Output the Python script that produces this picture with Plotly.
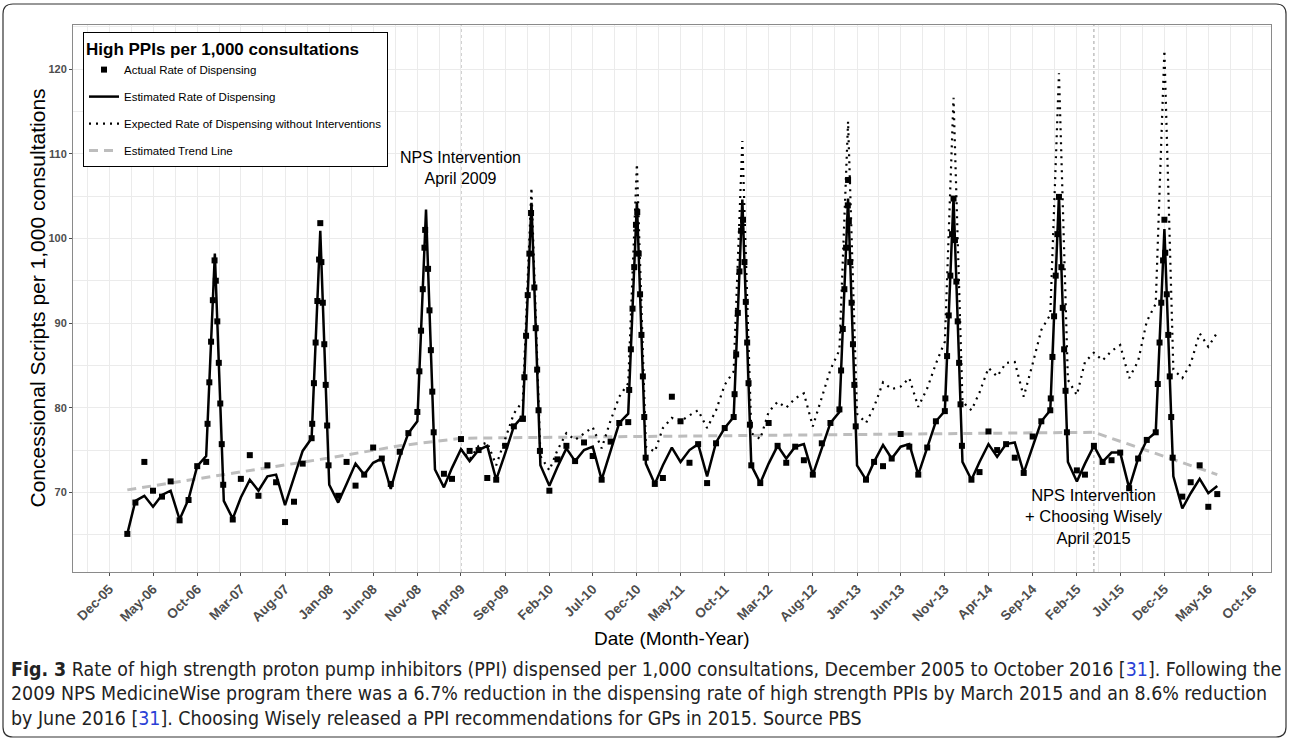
import pandas as pd
import plotly.graph_objects as go

# ---------------- data ----------------
# Estimated rate of dispensing (solid line), monthly Feb-2006 .. Jun-2016
est_2006 = [65.1, 69.0, 69.6, 68.3, 69.7, 70.2, 66.8, 69.2, 73.1, 74.3, 98.2]          # Feb-Dec
est_2007 = [69.0, 66.9, 69.4, 71.5, 70.2, 71.9, 72.1, 68.5, 71.8, 74.9, 76.4, 100.9]
est_2008 = [70.9, 68.8, 71.0, 73.4, 72.1, 73.5, 74.0, 70.4, 74.2, 77.0, 78.4, 103.4]
est_2009 = [72.7, 70.6, 72.9, 75.1, 73.7, 75.0, 75.5, 71.5, 74.6, 77.8, 79.0, 104.2]
est_2010 = [73.2, 70.8, 73.0, 75.2, 73.7, 75.0, 75.4, 71.5, 74.9, 78.2, 79.3, 104.3]
est_2011 = [73.4, 71.0, 73.2, 75.3, 73.6, 75.0, 75.7, 71.9, 75.9, 77.6, 78.9, 104.6]
est_2012 = [73.2, 71.1, 73.4, 75.5, 74.0, 75.4, 75.7, 72.1, 75.2, 78.2, 79.5, 104.7]
est_2013 = [73.2, 71.5, 73.6, 75.6, 74.0, 75.4, 75.7, 72.1, 75.3, 78.4, 79.6, 104.8]
est_2014 = [73.6, 71.5, 73.6, 75.7, 74.2, 75.7, 75.9, 72.3, 75.4, 78.4, 79.7, 105.1]
est_2015 = [73.6, 71.3, 73.4, 75.5, 73.6, 74.7, 74.7, 70.5, 74.0, 76.2, 77.1, 101.1]
est_2016 = [71.9, 68.1, 69.9, 71.6, 69.9, 70.75]                                       # Jan-Jun

# Expected rate without interventions (dotted), monthly Apr-2009 .. Jun-2016
exp_2009 = [75.1, 73.9, 75.5, 75.9, 73.2, 76.2, 79.3, 80.8, 106.0]                     # Apr-Dec
exp_2010 = [74.3, 72.6, 75.0, 77.0, 76.2, 77.0, 77.7, 75.2, 78.5, 81.3, 82.9, 108.8]
exp_2011 = [75.4, 74.8, 77.6, 78.8, 78.4, 79.1, 79.7, 77.6, 79.7, 82.7, 84.3, 111.5]
exp_2012 = [77.0, 76.3, 79.5, 80.7, 80.0, 81.1, 81.7, 77.8, 81.3, 84.5, 86.8, 113.8]
exp_2013 = [79.3, 78.2, 80.1, 83.0, 82.2, 82.5, 83.5, 80.1, 82.3, 85.2, 87.8, 116.6]
exp_2014 = [80.7, 79.7, 81.8, 84.7, 83.7, 85.3, 85.4, 81.3, 85.2, 89.2, 91.0, 119.5]
exp_2015 = [83.3, 81.5, 85.4, 86.5, 85.6, 86.7, 87.4, 83.5, 85.5, 90.2, 92.3, 122.2]
exp_2016 = [84.5, 83.5, 85.2, 88.8, 87.2, 88.9]                                        # Jan-Jun

# Actual rate of dispensing, monthly Feb..Nov of each year
act_monthly = {
    2006: [65.1, 68.8, 73.6, 70.2, 69.5, 71.3, 66.7, 69.1, 73.1, 73.6],
    2007: [66.8, 71.6, 74.4, 69.6, 73.2, 71.2, 66.5, 68.9, 73.4, 76.4],
    2008: [69.6, 73.6, 70.8, 72.1, 75.3, 74.0, 71.0, 74.8, 77.0, 79.5],
    2009: [72.2, 71.6, 76.3, 74.9, 75.0, 71.7, 71.5, 75.5, 77.8, 78.7],
    2010: [70.2, 73.9, 75.5, 73.7, 75.9, 74.3, 71.5, 76.0, 78.2, 78.3],
    2011: [71.0, 71.7, 81.3, 78.4, 73.5, 75.7, 71.1, 75.8, 77.6, 78.9],
    2012: [71.1, 78.2, 75.5, 73.5, 75.4, 73.8, 72.1, 75.8, 78.2, 79.8],
    2013: [71.5, 73.6, 73.1, 74.0, 76.9, 75.4, 72.1, 75.3, 78.4, 79.6],
    2014: [71.5, 72.4, 77.2, 75.0, 75.7, 74.1, 72.3, 76.6, 78.4, 79.7],
    2015: [72.6, 72.1, 75.5, 73.6, 73.8, 74.7, 70.5, 74.0, 76.2, 77.1],
}
act_2016 = [69.5, 71.2, 73.2, 68.3, 69.8]                                              # Feb-Jun

# Actual-rate squares drawn along each December spike (rising / falling side)
spike_years = [2006, 2007, 2008, 2009, 2010, 2011, 2012, 2013, 2014, 2015]
spike_rise = [
    [78.1, 83.0, 87.8, 92.7, 97.4],
    [78.1, 82.9, 87.7, 92.6, 97.5],
    [84.3, 89.1, 94.0, 98.9, 101.0],
    [78.7, 83.6, 88.5, 93.3, 98.2, 103.0],
    [82.1, 86.9, 91.7, 96.6, 101.6],
    [81.6, 86.3, 91.2, 96.1, 100.9],
    [84.4, 89.3, 94.0, 98.9, 103.9],
    [81.1, 86.1, 90.9, 95.6, 100.5],
    [81.1, 86.0, 90.8, 95.6, 100.5],
    [82.8, 87.7, 92.4, 97.4],
]
spike_fall = [
    [95.0, 90.2, 85.3, 80.5, 75.7, 70.9],
    [97.2, 92.4, 87.5, 82.7, 77.9, 73.2],
    [96.4, 91.5, 86.8, 81.9, 77.1],
    [94.2, 89.4, 84.5, 79.7, 74.9],
    [103.1, 98.2, 93.4, 88.6, 83.7, 78.9, 74.1],
    [102.2, 97.2, 92.5, 87.7, 82.9, 78.0, 73.2],
    [102.0, 97.2, 92.4, 87.5, 82.7, 77.8],
    [99.8, 94.9, 90.2, 85.3, 80.4, 75.5],
    [96.6, 91.8, 86.9, 82.0, 77.1],
    [98.3, 93.4, 88.6, 83.7, 78.9, 74.1],
]
dec_actual = {2007: 101.8, 2012: 106.9, 2013: 104.7, 2014: 104.9, 2015: 102.2}

# Estimated trend line (grey dashed)
trend_dates = ["2006-02-01", "2006-12-01", "2007-12-01", "2008-09-01", "2009-04-01",
               "2010-12-01", "2012-12-01", "2015-04-01", "2016-06-01"]
trend_values = [70.3, 71.9, 73.9, 75.5, 76.4, 76.6, 76.8, 77.1, 72.1]

interventions = ["2009-04-01", "2015-04-01"]
y_ticks = [70, 80, 90, 100, 110, 120]

# ---------------- build series ----------------
est_values = (est_2006 + est_2007 + est_2008 + est_2009 + est_2010 + est_2011 +
              est_2012 + est_2013 + est_2014 + est_2015 + est_2016)
est_dates = pd.date_range("2006-02-01", periods=len(est_values), freq="MS")
est = pd.Series(est_values, index=est_dates)

exp_values = (exp_2009 + exp_2010 + exp_2011 + exp_2012 + exp_2013 + exp_2014 +
              exp_2015 + exp_2016)
exp_dates = pd.date_range("2009-04-01", periods=len(exp_values), freq="MS")

act_pts = []
for yr, vals in act_monthly.items():
    for i, v in enumerate(vals):
        act_pts.append((pd.Timestamp(yr, 2 + i, 1), v))
for i, v in enumerate(act_2016):
    act_pts.append((pd.Timestamp(2016, 2 + i, 1), v))
for yr, rise, fall in zip(spike_years, spike_rise, spike_fall):
    nov, dec, jan = pd.Timestamp(yr, 11, 1), pd.Timestamp(yr, 12, 1), pd.Timestamp(yr + 1, 1, 1)
    vn, vd, vj = est[nov], est[dec], est[jan]
    for v in rise:
        f = (v - vn) / (vd - vn)
        act_pts.append((nov + (dec - nov) * f, v))
    for v in fall:
        f = (vd - v) / (vd - vj)
        act_pts.append((dec + (jan - dec) * f, v))
    if yr in dec_actual:
        act_pts.append((dec, dec_actual[yr]))
act_pts.sort(key=lambda p: p[0])
act_x = [p[0] for p in act_pts]
act_y = [p[1] for p in act_pts]

FONT = "Liberation Sans, Arial, sans-serif"

fig = go.Figure()
fig.add_trace(go.Scatter(x=pd.to_datetime(trend_dates), y=trend_values, mode="lines",
                         name="Estimated Trend Line", legendgroup="d", legendrank=4,
                         line=dict(color="#bdbdbd", width=3, dash="9px,6px")))
fig.add_trace(go.Scatter(x=exp_dates, y=exp_values, mode="lines",
                         name="Expected Rate of Dispensing without Interventions",
                         legendgroup="c", legendrank=3,
                         line=dict(color="black", width=2.2, dash="2px,5px")))
fig.add_trace(go.Scatter(x=est_dates, y=est_values, mode="lines",
                         name="Estimated Rate of Dispensing", legendgroup="b", legendrank=2,
                         line=dict(color="black", width=2.5)))
fig.add_trace(go.Scatter(x=act_x, y=act_y, mode="markers",
                         name="Actual Rate of Dispensing", legendgroup="a", legendrank=1,
                         marker=dict(symbol="square", size=6, color="black")))

# axes ticks
major = pd.date_range("2005-12-01", "2016-10-01", freq="5MS")
ext = pd.date_range("2005-07-01", "2017-03-01", freq="5MS")
minor = [ext[i] + (ext[i + 1] - ext[i]) / 2 for i in range(len(ext) - 1)]

L, R, T, B = 73, 18, 25, 169
W, H = 1289, 741
pw, ph = W - L - R, H - T - B


def px(xp):
    return (xp - L) / pw


def py(yp):
    return (H - B - yp) / ph


grid = "#ebebeb"
fig.update_layout(
    width=W, height=H, margin=dict(l=L, r=R, t=T, b=B),
    paper_bgcolor="white", plot_bgcolor="white",
    font=dict(family=FONT, color="black"),
    showlegend=True,
    legend=dict(x=px(83), y=py(32), xanchor="left", yanchor="top",
                bgcolor="white", bordercolor="black", borderwidth=1,
                font=dict(size=11.5, family=FONT, color="black"),
                title=dict(text="<b>High PPIs per 1,000 consultations</b>",
                           font=dict(size=17, family=FONT, color="black")),
                tracegroupgap=8, itemwidth=30),
    xaxis=dict(type="date", range=["2005-07-28", "2016-12-04"],
               tickmode="array", tickvals=list(major),
               ticktext=[d.strftime("%b-%y") for d in major],
               tickangle=-45, tickfont=dict(size=13.5, color="#4d4d4d", family=FONT, weight="bold"),
               showgrid=True, gridcolor=grid, gridwidth=1,
               minor=dict(tickmode="array", tickvals=minor, showgrid=True, gridcolor=grid, gridwidth=0.6),
               showline=True, linecolor="#8a8a8a", linewidth=1, mirror=True,
               ticks="outside", ticklen=3, tickcolor="#4d4d4d", zeroline=False),
    yaxis=dict(range=[60.6, 125.2], tickmode="array", tickvals=y_ticks,
               tickfont=dict(size=11, color="#4d4d4d", family=FONT, weight="bold"),
               showgrid=True, gridcolor=grid, gridwidth=1,
               minor=dict(dtick=5, tick0=0, showgrid=True, gridcolor=grid, gridwidth=0.6),
               showline=True, linecolor="#8a8a8a", linewidth=1, mirror=True,
               ticks="outside", ticklen=3, tickcolor="#4d4d4d", zeroline=False),
)

# intervention reference lines
for d in interventions:
    fig.add_shape(type="line", xref="x", yref="paper", x0=d, x1=d, y0=0, y1=1,
                  line=dict(color="#a0a0a0", width=1, dash="dot"), layer="below")

# annotations in the plot
fig.add_annotation(x=interventions[0], y=108.3, xref="x", yref="y",
                   text="NPS Intervention<br>April 2009", showarrow=False,
                   font=dict(size=16, family=FONT, color="black"), align="center")
fig.add_annotation(x=interventions[1], y=67.2, xref="x", yref="y",
                   text="NPS Intervention<br>+ Choosing Wisely<br>April 2015", showarrow=False,
                   font=dict(size=16.5, family=FONT, color="black"), align="center")

# axis titles
fig.add_annotation(x=px(37), y=0.5, xref="paper", yref="paper", textangle=-90,
                   xanchor="center", yanchor="middle",
                   text="Concessional Scripts per 1,000 consultations", showarrow=False,
                   font=dict(size=21, family=FONT, color="black"))
fig.add_annotation(x=0.5, y=py(638), xref="paper", yref="paper",
                   xanchor="center", yanchor="middle",
                   text="Date (Month-Year)", showarrow=False,
                   font=dict(size=19, family=FONT, color="black"))

# caption
CAP = "Liberation Sans Narrow, DejaVu Sans Condensed, Arial Narrow, sans-serif"
blue = "#2a3fd6"
cap_lines = [
    "<b>Fig. 3</b> Rate of high strength proton pump inhibitors (PPI) dispensed per 1,000 consultations, "
    "December 2005 to October 2016 [<span style='color:%s'>31</span>]. Following the" % blue,
    "2009 NPS MedicineWise program there was a 6.7% reduction in the dispensing rate of high strength "
    "PPIs by March 2015 and an 8.6% reduction",
    "by June 2016 [<span style='color:%s'>31</span>]. Choosing Wisely released a PPI recommendations "
    "for GPs in 2015. Source PBS" % blue,
]
for i, t in enumerate(cap_lines):
    fig.add_annotation(x=px(9), y=py(669 + 24.5 * i), xref="paper", yref="paper",
                       xanchor="left", yanchor="middle", text=t, showarrow=False,
                       font=dict(size=19.4, family=CAP, color="#222222"))

# rounded outer frame
x0, x1 = px(3), px(1286)
yt, yb = py(4), py(737)
rx, ry = 10 / pw, 10 / ph
path = (f"M {x0+rx},{yt} L {x1-rx},{yt} Q {x1},{yt} {x1},{yt-ry} L {x1},{yb+ry} "
        f"Q {x1},{yb} {x1-rx},{yb} L {x0+rx},{yb} Q {x0},{yb} {x0},{yb+ry} "
        f"L {x0},{yt-ry} Q {x0},{yt} {x0+rx},{yt} Z")
fig.add_shape(type="path", xref="paper", yref="paper", path=path,
              line=dict(color="#333333", width=1.2), layer="above")

fig.write_html("out.html", config={"displayModeBar": False})
